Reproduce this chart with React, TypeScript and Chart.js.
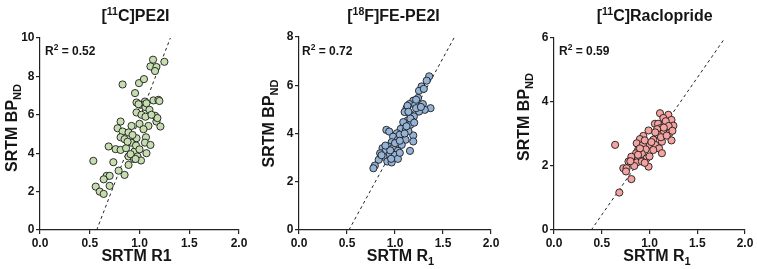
import React, { useEffect, useRef } from 'react';
import { Chart, registerables } from 'chart.js';

Chart.register(...registerables);

const FONT = "'Liberation Sans', Arial, Helvetica, sans-serif";

// ---------- data ----------
const pe2iR1 = [1.136, 1.25, 1.11, 1.17, 1.156, 0.83, 0.995, 1.045, 0.955, 0.97, 1.055, 1.14, 1.19, 1.01, 1.06, 1.10, 0.97, 1.02, 1.156, 1.06, 0.81, 0.78, 0.92, 1.0, 1.09, 1.17, 1.21, 0.83, 0.89, 0.81, 0.85, 0.97, 1.065, 0.915, 1.055, 1.11, 0.69, 0.76, 0.81, 0.865, 0.95, 1.07, 0.89, 0.98, 1.015, 0.945, 0.536, 0.737, 0.89, 0.79, 0.85, 0.67, 0.70, 0.64, 0.70, 0.56, 0.60, 0.64, 1.18, 0.965, 1.04, 1.2, 1.07, 0.99, 1.12, 0.93, 0.88, 1.0, 0.91, 0.96];
const pe2iBP = [8.87, 8.76, 8.52, 8.49, 8.28, 7.58, 7.65, 7.86, 7.13, 6.64, 6.69, 6.75, 6.78, 6.52, 6.40, 6.26, 6.12, 6.0, 5.95, 5.9, 5.65, 5.3, 5.42, 5.53, 5.42, 5.65, 5.39, 5.13, 5.08, 4.83, 4.73, 4.78, 4.83, 4.55, 4.55, 4.43, 4.35, 4.21, 4.17, 4.26, 4.09, 4.0, 3.83, 3.83, 3.62, 3.7, 3.6, 3.53, 3.39, 3.09, 2.87, 2.82, 2.82, 2.64, 2.3, 2.26, 2.0, 1.88, 5.83, 4.4, 5.25, 6.72, 6.6, 6.55, 6.0, 4.95, 4.6, 4.2, 3.95, 3.7];
const pe2iFitR1 = [0.57, 1.31];
const pe2iFitBP = [0, 10];

const fePe2iR1 = [1.356, 1.33, 1.277, 1.25, 1.30, 1.24, 1.19, 1.15, 1.21, 1.29, 1.37, 1.12, 1.31, 1.25, 1.156, 1.10, 1.197, 1.18, 1.128, 1.16, 1.086, 1.06, 1.114, 0.91, 0.94, 1.02, 1.19, 1.08, 0.98, 1.03, 1.11, 0.965, 1.19, 1.01, 1.07, 0.93, 0.87, 0.98, 1.03, 0.896, 0.845, 1.156, 0.94, 1.0, 0.88, 0.83, 0.92, 0.965, 0.79, 0.775, 1.03, 1.086, 1.14, 1.05, 1.13, 1.22, 1.16, 1.1, 0.95, 1.0, 1.05, 0.9, 1.12, 1.2, 1.22, 1.27, 0.86, 0.96, 1.05, 1.14];
const fePe2iBP = [6.37, 6.19, 5.95, 5.77, 5.85, 5.47, 5.36, 5.22, 5.19, 5.22, 5.05, 5.05, 4.98, 4.91, 4.80, 4.89, 4.71, 4.50, 4.53, 4.36, 4.29, 4.19, 4.15, 4.15, 4.08, 4.01, 3.92, 3.87, 3.87, 3.74, 3.74, 3.64, 3.67, 3.53, 3.53, 3.46, 3.39, 3.39, 3.28, 3.25, 3.18, 3.28, 3.11, 3.11, 3.04, 2.91, 2.84, 2.80, 2.67, 2.56, 2.95, 4.47, 4.1, 3.95, 5.15, 5.05, 4.62, 4.0, 3.3, 3.6, 3.7, 3.5, 4.3, 4.45, 5.4, 5.1, 3.1, 2.95, 3.2, 4.9];
const fePe2iFitR1 = [0.52, 1.62];
const fePe2iFitBP = [0, 8];

const racloR1 = [1.11, 1.197, 1.145, 1.23, 1.057, 1.09, 1.16, 1.25, 1.11, 1.197, 1.08, 0.99, 1.145, 1.09, 1.21, 0.935, 1.23, 1.04, 1.13, 0.90, 0.866, 0.64, 1.005, 1.06, 0.93, 1.10, 0.96, 1.04, 0.88, 0.86, 0.92, 1.13, 0.81, 0.88, 0.97, 0.78, 0.866, 0.92, 0.99, 0.726, 0.76, 0.754, 0.81, 0.684, 1.17, 1.2, 1.12, 1.06, 0.95, 1.02, 0.9, 1.0, 0.84, 0.95, 1.18, 1.15, 0.8, 0.88, 1.24];
const racloBP = [3.65, 3.60, 3.50, 3.44, 3.32, 3.32, 3.32, 3.26, 3.18, 3.15, 3.15, 3.11, 3.03, 2.97, 3.03, 2.94, 2.80, 2.82, 2.76, 2.84, 2.71, 2.66, 2.66, 2.66, 2.66, 2.55, 2.52, 2.50, 2.50, 2.40, 2.38, 2.40, 2.29, 2.21, 2.24, 2.14, 2.11, 2.14, 1.98, 1.93, 1.93, 1.83, 1.59, 1.17, 3.4, 3.25, 2.9, 3.05, 2.8, 2.75, 2.55, 2.3, 2.0, 2.1, 2.95, 3.2, 2.15, 2.35, 3.1];
const racloFitR1 = [0.39, 1.79];
const racloFitBP = [0, 6];

const xTickMin = 0;
const xTickMax = 2;
const xTickStep = 0.5;

// ---------- rich text helper ----------
type Seg = { t: string; size: number; dy: number };

function drawRich(
  ctx: CanvasRenderingContext2D,
  segs: Seg[],
  x: number,
  y: number,
  align: 'left' | 'center',
  rot = 0
) {
  ctx.save();
  ctx.translate(x, y);
  if (rot) ctx.rotate(rot);
  ctx.textAlign = 'left';
  ctx.textBaseline = 'alphabetic';
  ctx.fillStyle = '#151515';
  let total = 0;
  for (const s of segs) {
    ctx.font = `bold ${s.size}px ${FONT}`;
    total += ctx.measureText(s.t).width;
  }
  let cx = align === 'center' ? -total / 2 : 0;
  for (const s of segs) {
    ctx.font = `bold ${s.size}px ${FONT}`;
    ctx.fillText(s.t, cx, s.dy);
    cx += ctx.measureText(s.t).width;
  }
  ctx.restore();
}

interface PanelCfg {
  left: number;
  width: number;
  plotLeft: number;
  plotRight: number;
  plotTop: number;
  plotBottom: number;
  xs: number[];
  ys: number[];
  fitX: number[];
  fitY: number[];
  yMax: number;
  fill: string;
  title: Seg[];
  titleX: number;
  yTitleX: number;
  yTitleY: number;
  xTitle: Seg[];
  xTitleX: number;
  r2: string;
  r2X: number;
}

const H = 269;

const yTitle: Seg[] = [
  { t: 'SRTM BP', size: 16, dy: 0 },
  { t: 'ND', size: 11, dy: 4 },
];

const panels: PanelCfg[] = [
  {
    left: 0, width: 252, plotLeft: 40, plotRight: 239, plotTop: 38, plotBottom: 230,
    xs: pe2iR1, ys: pe2iBP, fitX: pe2iFitR1, fitY: pe2iFitBP, yMax: 10, fill: '#c6ddb0',
    title: [
      { t: '[', size: 16, dy: 0 },
      { t: '11', size: 10.5, dy: -6 },
      { t: 'C]PE2I', size: 16, dy: 0 },
    ],
    titleX: 135.5, yTitleX: 17, yTitleY: 128,
    xTitle: [{ t: 'SRTM R1', size: 16, dy: 0 }], xTitleX: 136.5,
    r2: '0.52', r2X: 45,
  },
  {
    left: 252, width: 252, plotLeft: 47, plotRight: 239, plotTop: 37, plotBottom: 230,
    xs: fePe2iR1, ys: fePe2iBP, fitX: fePe2iFitR1, fitY: fePe2iFitBP, yMax: 8, fill: '#95b3d7',
    title: [
      { t: '[', size: 16, dy: 0 },
      { t: '18', size: 10.5, dy: -6 },
      { t: 'F]FE-PE2I', size: 16, dy: 0 },
    ],
    titleX: 141.5, yTitleX: 22, yTitleY: 123.5,
    xTitle: [
      { t: 'SRTM R', size: 16, dy: 0 },
      { t: '1', size: 11, dy: 4 },
    ],
    xTitleX: 148.5,
    r2: '0.72', r2X: 50,
  },
  {
    left: 504, width: 253, plotLeft: 50, plotRight: 241, plotTop: 38, plotBottom: 230,
    xs: racloR1, ys: racloBP, fitX: racloFitR1, fitY: racloFitBP, yMax: 6, fill: '#f4a3a0',
    title: [
      { t: '[', size: 16, dy: 0 },
      { t: '11', size: 10.5, dy: -6 },
      { t: 'C]Raclopride', size: 16, dy: 0 },
    ],
    titleX: 150.7, yTitleX: 25, yTitleY: 117,
    xTitle: [
      { t: 'SRTM R', size: 16, dy: 0 },
      { t: '1', size: 11, dy: 4 },
    ],
    xTitleX: 153,
    r2: '0.59', r2X: 55,
  },
];

function Panel({ cfg }: { cfg: PanelCfg }) {
  const ref = useRef<HTMLCanvasElement | null>(null);

  useEffect(() => {
    if (!ref.current) return;
    const tickFont = { family: FONT, size: 12, weight: 'bold' as const };
    const textPlugin = {
      id: 'richText' + cfg.left,
      afterDraw(chart: any) {
        const ctx = chart.ctx as CanvasRenderingContext2D;
        drawRich(ctx, cfg.title, cfg.titleX, 21, 'center');
        drawRich(ctx, yTitle, cfg.yTitleX, cfg.yTitleY, 'center', -Math.PI / 2);
        drawRich(ctx, cfg.xTitle, cfg.xTitleX, 261, 'center');
        drawRich(
          ctx,
          [
            { t: 'R', size: 12, dy: 0 },
            { t: '2', size: 8.5, dy: -5 },
            { t: ' = ' + cfg.r2, size: 12, dy: 0 },
          ],
          cfg.r2X,
          55,
          'left'
        );
      },
    };

    const chart = new Chart(ref.current, {
      type: 'scatter',
      data: {
        datasets: [
          {
            label: 'data',
            data: cfg.xs.map((x, i) => ({ x, y: cfg.ys[i] })),
            backgroundColor: cfg.fill,
            borderColor: '#1c1c1c',
            borderWidth: 0.9,
            pointRadius: 3.6,
            order: 0,
          },
          {
            label: 'fit',
            data: cfg.fitX.map((x, i) => ({ x, y: cfg.fitY[i] })),
            showLine: true,
            borderColor: '#222',
            borderWidth: 1,
            borderDash: [3, 3],
            pointRadius: 0,
            order: 1,
          } as any,
        ],
      },
      options: {
        responsive: false,
        animation: false,
        devicePixelRatio: 1,
        layout: {
          padding: {
            left: cfg.plotLeft - 30,
            right: cfg.width - cfg.plotRight,
            top: cfg.plotTop,
            bottom: H - cfg.plotBottom - 25,
          },
        },
        plugins: {
          legend: { display: false },
          tooltip: { enabled: false },
          title: { display: false },
        },
        scales: {
          x: {
            type: 'linear',
            min: xTickMin,
            max: xTickMax,
            ticks: {
              stepSize: xTickStep,
              callback: (v: any) => Number(v).toFixed(1),
              font: tickFont,
              color: '#151515',
              padding: 2,
              maxRotation: 0,
            },
            grid: {
              drawOnChartArea: false,
              drawTicks: true,
              tickLength: 4,
              color: '#222',
              lineWidth: 1.2,
            },
            border: { display: true, color: '#222', width: 1.2 },
            afterFit: (s: any) => {
              s.height = 25;
              s.paddingLeft = 0;
              s.paddingRight = 0;
            },
          },
          y: {
            type: 'linear',
            min: 0,
            max: cfg.yMax,
            ticks: {
              stepSize: 2,
              font: tickFont,
              color: '#151515',
              padding: 1.5,
            },
            grid: {
              drawOnChartArea: false,
              drawTicks: true,
              tickLength: 4,
              color: '#222',
              lineWidth: 1.2,
            },
            border: { display: true, color: '#222', width: 1.2 },
            afterFit: (s: any) => {
              s.width = 30;
              s.paddingTop = 0;
              s.paddingBottom = 0;
            },
          },
        },
      } as any,
      plugins: [textPlugin],
    });
    return () => chart.destroy();
  }, [cfg]);

  return (
    <canvas
      ref={ref}
      width={cfg.width}
      height={H}
      style={{ position: 'absolute', left: cfg.left, top: 0, width: cfg.width, height: H, display: 'block' }}
    />
  );
}

export default function App() {
  return (
    <div style={{ position: 'fixed', left: 0, top: 0, width: 757, height: H, background: '#ffffff', overflow: 'hidden' }}>
      {panels.map((p) => (
        <Panel key={p.left} cfg={p} />
      ))}
    </div>
  );
}
